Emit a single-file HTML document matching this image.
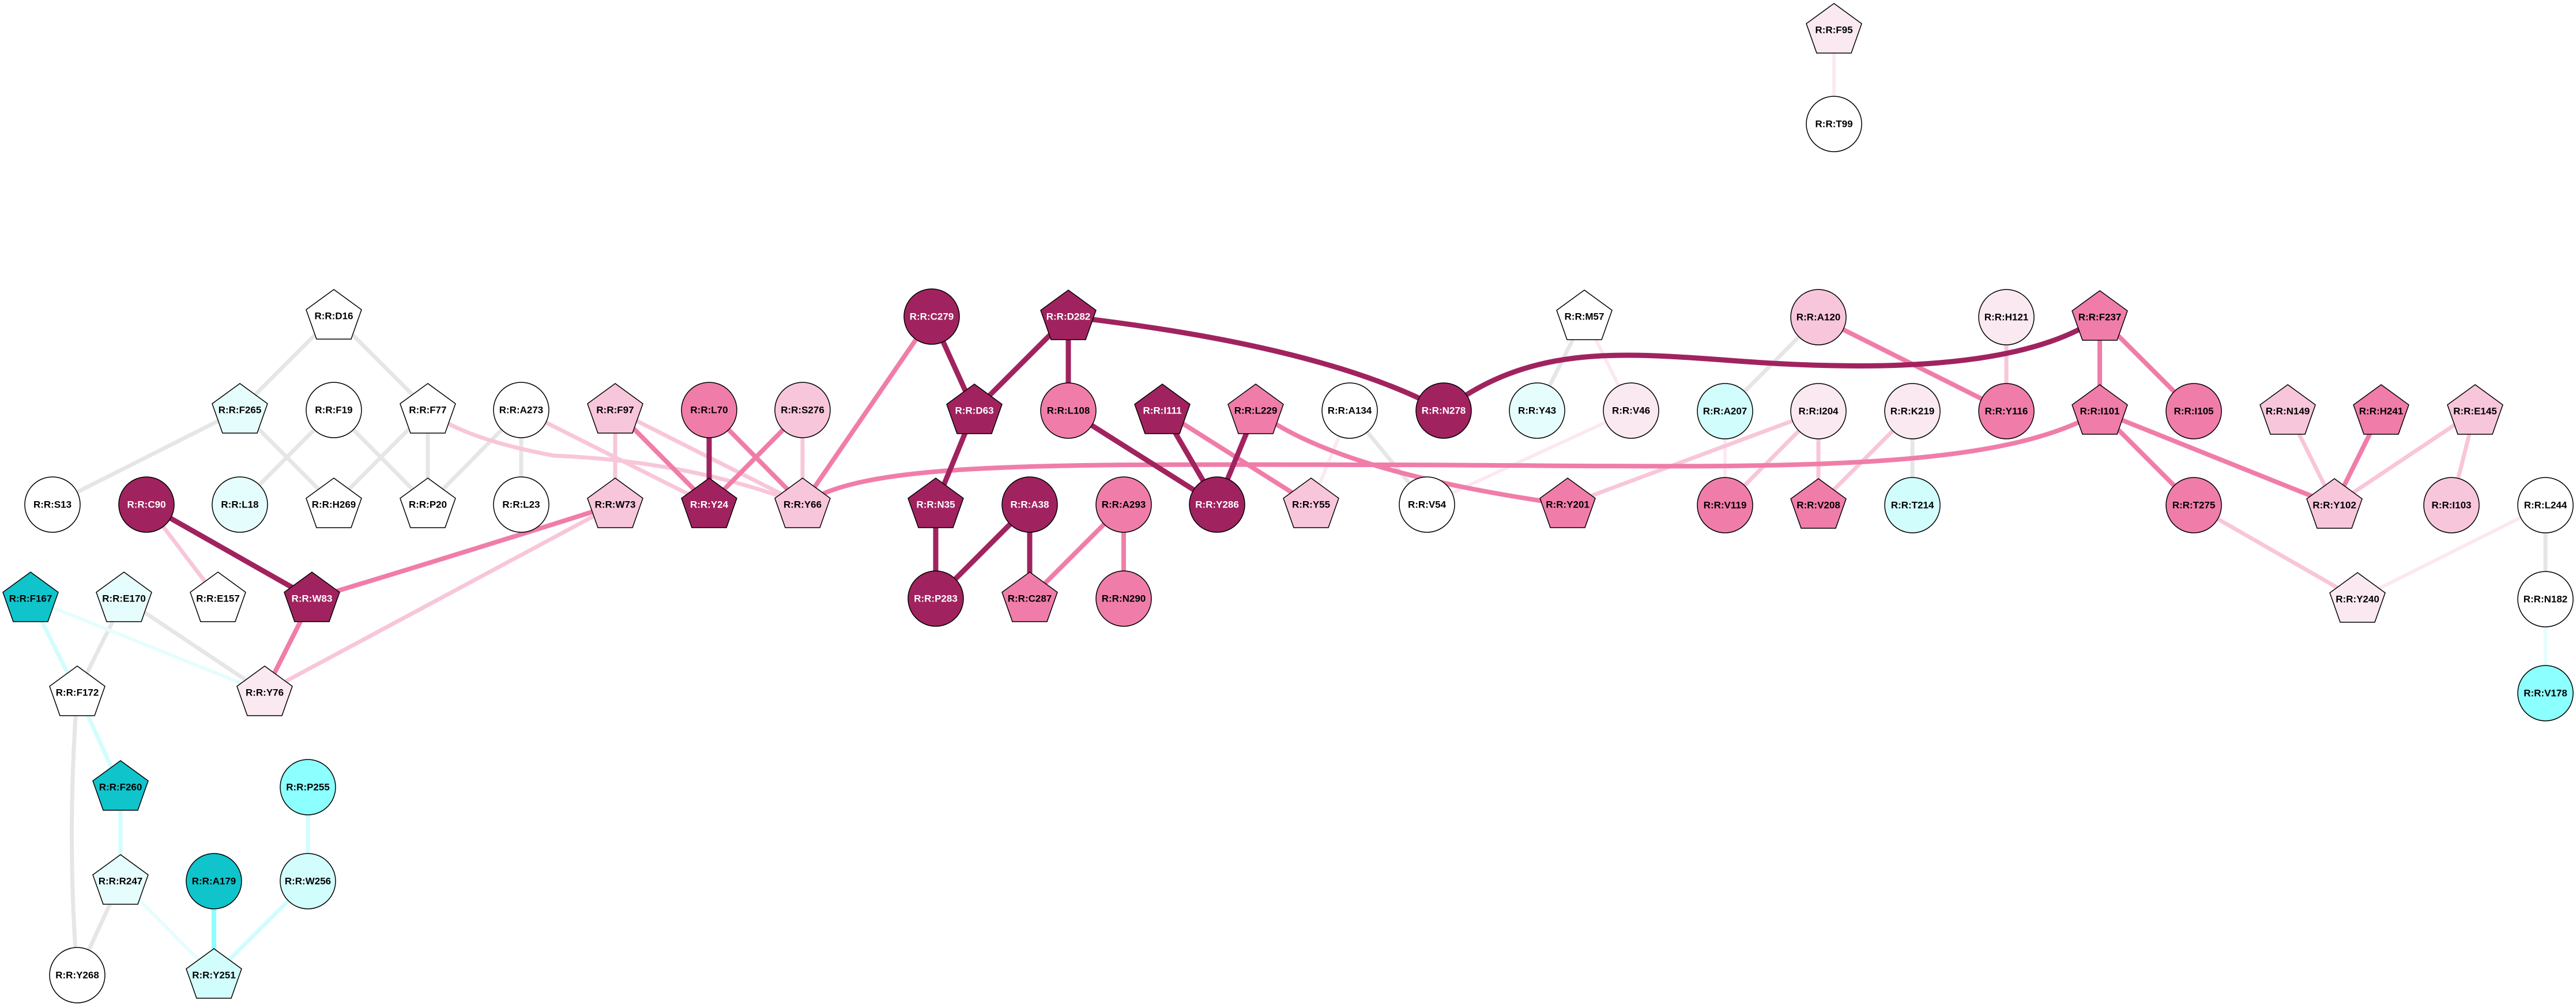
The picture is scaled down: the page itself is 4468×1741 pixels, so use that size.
<!DOCTYPE html>
<html><head><meta charset="utf-8"><style>
html,body{margin:0;padding:0;background:#fff;width:4468px;height:1741px;overflow:hidden}
svg{display:block}
text{font-family:"Liberation Sans",Arial,sans-serif;font-weight:bold;font-size:17px;text-anchor:middle;dominant-baseline:central;fill:#000}
text.w{fill:#fff}
</style></head><body>
<svg width="4468" height="1741" viewBox="0 0 4468 1741" xmlns="http://www.w3.org/2000/svg">
<defs>
<polygon id="p" points="0,-46 48,-11 30,40 -30,40 -48,-11" stroke="#000" stroke-width="1.5"/>
<ellipse id="c" cx="0" cy="0" rx="48" ry="48" stroke="#000" stroke-width="1.5"/>
</defs>
<g fill="none" stroke-linecap="round">
<!-- gray -->
<g stroke="#e6e6e6" stroke-width="7">
<line x1="579" y1="548" x2="416" y2="711"/><line x1="579" y1="548" x2="742" y2="711"/>
<line x1="416" y1="711" x2="91" y2="875"/><line x1="416" y1="711" x2="579" y2="875"/>
<line x1="579" y1="711" x2="416" y2="875"/><line x1="579" y1="711" x2="742" y2="875"/>
<line x1="742" y1="711" x2="579" y2="875"/><line x1="742" y1="711" x2="742" y2="875"/>
<line x1="904" y1="711" x2="742" y2="875"/><line x1="904" y1="711" x2="904" y2="875"/>
<line x1="215" y1="1038" x2="134" y2="1201"/><line x1="215" y1="1038" x2="459" y2="1201"/>
<path d="M134,1201 Q115,1450 134,1691"/>
<line x1="209" y1="1528" x2="134" y2="1691"/>
<line x1="2341" y1="712" x2="2475" y2="875"/>
<line x1="2748" y1="549" x2="2666" y2="712"/>
<line x1="3154" y1="550" x2="2992" y2="713"/>
<line x1="3317" y1="713" x2="3317" y2="876"/>
<line x1="4415" y1="876" x2="4415" y2="1039"/>
</g>
<!-- very light cyan -->
<g stroke="#e6fdfd" stroke-width="6">
<line x1="53" y1="1038" x2="459" y2="1201"/>
<line x1="209" y1="1528" x2="371" y2="1691"/>
<line x1="4415" y1="1039" x2="4415" y2="1202"/>
</g>
<g stroke="#d2fdfd" stroke-width="7">
<line x1="53" y1="1038" x2="134" y2="1201"/>
<line x1="134" y1="1201" x2="209" y2="1365"/>
<line x1="209" y1="1365" x2="209" y2="1528"/>
<line x1="534" y1="1365" x2="534" y2="1528"/>
<line x1="534" y1="1528" x2="371" y2="1691"/>
</g>
<line x1="371" y1="1528" x2="371" y2="1691" stroke="#8cffff" stroke-width="8"/>
<!-- very light pink -->
<g stroke="#fbe9f1" stroke-width="6">
<line x1="2341" y1="712" x2="2274" y2="875"/>
<line x1="2748" y1="549" x2="2829" y2="712"/>
<line x1="2829" y1="712" x2="2475" y2="875"/>
<line x1="2992" y1="713" x2="2992" y2="876"/>
<line x1="4415" y1="876" x2="4089" y2="1039"/>
<line x1="3181" y1="52" x2="3181" y2="215"/>
</g>
<!-- light pink -->
<g stroke="#f8c6da" stroke-width="7">
<path d="M742,711 Q800,760 960,790 Q1200,800 1392,875"/>
<line x1="904" y1="711" x2="1230" y2="875"/>
<line x1="1067" y1="711" x2="1067" y2="875"/>
<line x1="1067" y1="711" x2="1392" y2="875"/>
<line x1="1392" y1="711" x2="1392" y2="875"/>
<line x1="254" y1="875" x2="378" y2="1038"/>
<line x1="1067" y1="875" x2="459" y2="1201"/>
<line x1="2719" y1="875" x2="3154" y2="713"/>
<line x1="3154" y1="713" x2="2992" y2="876"/>
<line x1="3154" y1="713" x2="3154" y2="876"/>
<line x1="3317" y1="713" x2="3154" y2="876"/>
<line x1="3480" y1="550" x2="3480" y2="713"/>
<line x1="3968" y1="713" x2="4049" y2="876"/>
<line x1="4293" y1="713" x2="4049" y2="876"/>
<line x1="4293" y1="713" x2="4252" y2="876"/>
<line x1="3805" y1="876" x2="4089" y2="1039"/>
</g>
<!-- mid pink -->
<g stroke="#f07da9" stroke-width="8">
<line x1="1067" y1="711" x2="1230" y2="875"/>
<line x1="1230" y1="711" x2="1392" y2="875"/>
<line x1="1392" y1="711" x2="1230" y2="875"/>
<line x1="1616" y1="549" x2="1392" y2="875"/>
<path d="M1392,875 C1500,800 1800,805 2400,806 S3450,830 3642,713"/>
<path d="M1067,875 Q800,960 541,1038"/>
<line x1="541" y1="1038" x2="459" y2="1201"/>
<line x1="1949" y1="875" x2="1786" y2="1038"/>
<line x1="1949" y1="875" x2="1949" y2="1038"/>
<line x1="2016" y1="712" x2="2274" y2="875"/>
<path d="M2178,712 Q2320,820 2719,875"/>
<line x1="3154" y1="550" x2="3480" y2="713"/>
<line x1="3642" y1="550" x2="3642" y2="713"/>
<line x1="3642" y1="550" x2="3805" y2="713"/>
<line x1="3642" y1="713" x2="3805" y2="876"/>
<line x1="3642" y1="713" x2="4049" y2="876"/>
<line x1="4130" y1="713" x2="4049" y2="876"/>
</g>
<!-- dark -->
<g stroke="#a0235f" stroke-width="9">
<line x1="1230" y1="711" x2="1230" y2="875"/>
<line x1="254" y1="875" x2="541" y2="1038"/>
<line x1="1616" y1="549" x2="1690" y2="712"/>
<line x1="1853" y1="549" x2="1690" y2="712"/>
<line x1="1853" y1="549" x2="1853" y2="712"/>
<path d="M1853,549 Q2300,600 2504,712"/>
<path d="M2504,712 C2650,600 2800,610 3000,625 S3500,650 3642,550"/>
<line x1="1690" y1="712" x2="1623" y2="875"/>
<line x1="1623" y1="875" x2="1623" y2="1038"/>
<line x1="1786" y1="875" x2="1623" y2="1038"/>
<line x1="1786" y1="875" x2="1786" y2="1038"/>
<line x1="1853" y1="712" x2="2111" y2="875"/>
<line x1="2016" y1="712" x2="2111" y2="875"/>
<line x1="2178" y1="712" x2="2111" y2="875"/>
</g>
</g>
<!-- nodes -->
<g>
<use href="#p" x="579" y="548" fill="#fff"/><text x="579" y="548">R:R:D16</text>
<use href="#p" x="416" y="711" fill="#e6fdfd"/><text x="416" y="711">R:R:F265</text>
<use href="#c" x="579" y="711" fill="#fff"/><text x="579" y="711">R:R:F19</text>
<use href="#p" x="742" y="711" fill="#fff"/><text x="742" y="711">R:R:F77</text>
<use href="#c" x="904" y="711" fill="#fff"/><text x="904" y="711">R:R:A273</text>
<use href="#p" x="1067" y="711" fill="#f8c6da"/><text x="1067" y="711">R:R:F97</text>
<use href="#c" x="1230" y="711" fill="#f07da9"/><text x="1230" y="711">R:R:L70</text>
<use href="#c" x="1392" y="711" fill="#f8c6da"/><text x="1392" y="711">R:R:S276</text>
<use href="#c" x="91" y="875" fill="#fff"/><text x="91" y="875">R:R:S13</text>
<use href="#c" x="254" y="875" fill="#a0235f"/><text class="w" x="254" y="875">R:R:C90</text>
<use href="#c" x="416" y="875" fill="#e6fdfd"/><text x="416" y="875">R:R:L18</text>
<use href="#p" x="579" y="875" fill="#fff"/><text x="579" y="875">R:R:H269</text>
<use href="#p" x="742" y="875" fill="#fff"/><text x="742" y="875">R:R:P20</text>
<use href="#c" x="904" y="875" fill="#fff"/><text x="904" y="875">R:R:L23</text>
<use href="#p" x="1067" y="875" fill="#f8c6da"/><text x="1067" y="875">R:R:W73</text>
<use href="#p" x="1230" y="875" fill="#a0235f"/><text class="w" x="1230" y="875">R:R:Y24</text>
<use href="#p" x="1392" y="875" fill="#f8c6da"/><text x="1392" y="875">R:R:Y66</text>
<use href="#p" x="53" y="1038" fill="#10c4cc"/><text x="53" y="1038">R:R:F167</text>
<use href="#p" x="215" y="1038" fill="#e6fdfd"/><text x="215" y="1038">R:R:E170</text>
<use href="#p" x="378" y="1038" fill="#fff"/><text x="378" y="1038">R:R:E157</text>
<use href="#p" x="541" y="1038" fill="#a0235f"/><text class="w" x="541" y="1038">R:R:W83</text>
<use href="#p" x="134" y="1201" fill="#fff"/><text x="134" y="1201">R:R:F172</text>
<use href="#p" x="459" y="1201" fill="#fbe9f1"/><text x="459" y="1201">R:R:Y76</text>
<use href="#p" x="209" y="1365" fill="#10c4cc"/><text x="209" y="1365">R:R:F260</text>
<use href="#c" x="534" y="1365" fill="#8cffff"/><text x="534" y="1365">R:R:P255</text>
<use href="#p" x="209" y="1528" fill="#e6fdfd"/><text x="209" y="1528">R:R:R247</text>
<use href="#c" x="371" y="1528" fill="#10c4cc"/><text x="371" y="1528">R:R:A179</text>
<use href="#c" x="534" y="1528" fill="#d2fdfd"/><text x="534" y="1528">R:R:W256</text>
<use href="#c" x="134" y="1691" fill="#fff"/><text x="134" y="1691">R:R:Y268</text>
<use href="#p" x="371" y="1691" fill="#d2fdfd"/><text x="371" y="1691">R:R:Y251</text>

<use href="#c" x="1616" y="549" fill="#a0235f"/><text class="w" x="1616" y="549">R:R:C279</text>
<use href="#p" x="1853" y="549" fill="#a0235f"/><text class="w" x="1853" y="549">R:R:D282</text>
<use href="#p" x="2748" y="549" fill="#fff"/><text x="2748" y="549">R:R:M57</text>
<use href="#p" x="1690" y="712" fill="#a0235f"/><text class="w" x="1690" y="712">R:R:D63</text>
<use href="#c" x="1853" y="712" fill="#f07da9"/><text x="1853" y="712">R:R:L108</text>
<use href="#p" x="2016" y="712" fill="#a0235f"/><text class="w" x="2016" y="712">R:R:I111</text>
<use href="#p" x="2178" y="712" fill="#f07da9"/><text x="2178" y="712">R:R:L229</text>
<use href="#c" x="2341" y="712" fill="#fff"/><text x="2341" y="712">R:R:A134</text>
<use href="#c" x="2504" y="712" fill="#a0235f"/><text class="w" x="2504" y="712">R:R:N278</text>
<use href="#c" x="2666" y="712" fill="#e6fdfd"/><text x="2666" y="712">R:R:Y43</text>
<use href="#c" x="2829" y="712" fill="#fbe9f1"/><text x="2829" y="712">R:R:V46</text>
<use href="#p" x="1623" y="875" fill="#a0235f"/><text class="w" x="1623" y="875">R:R:N35</text>
<use href="#c" x="1786" y="875" fill="#a0235f"/><text class="w" x="1786" y="875">R:R:A38</text>
<use href="#c" x="1949" y="875" fill="#f07da9"/><text x="1949" y="875">R:R:A293</text>
<use href="#c" x="2111" y="875" fill="#a0235f"/><text class="w" x="2111" y="875">R:R:Y286</text>
<use href="#p" x="2274" y="875" fill="#f8c6da"/><text x="2274" y="875">R:R:Y55</text>
<use href="#c" x="2475" y="875" fill="#fff"/><text x="2475" y="875">R:R:V54</text>
<use href="#p" x="2719" y="875" fill="#f07da9"/><text x="2719" y="875">R:R:Y201</text>
<use href="#c" x="1623" y="1038" fill="#a0235f"/><text class="w" x="1623" y="1038">R:R:P283</text>
<use href="#p" x="1786" y="1038" fill="#f07da9"/><text x="1786" y="1038">R:R:C287</text>
<use href="#c" x="1949" y="1038" fill="#f07da9"/><text x="1949" y="1038">R:R:N290</text>

<use href="#p" x="3181" y="52" fill="#fbe9f1"/><text x="3181" y="52">R:R:F95</text>
<use href="#c" x="3181" y="215" fill="#fff"/><text x="3181" y="215">R:R:T99</text>
<use href="#c" x="3154" y="550" fill="#f8c6da"/><text x="3154" y="550">R:R:A120</text>
<use href="#c" x="3480" y="550" fill="#fbe9f1"/><text x="3480" y="550">R:R:H121</text>
<use href="#p" x="3642" y="550" fill="#f07da9"/><text x="3642" y="550">R:R:F237</text>
<use href="#c" x="2992" y="713" fill="#d2fdfd"/><text x="2992" y="713">R:R:A207</text>
<use href="#c" x="3154" y="713" fill="#fbe9f1"/><text x="3154" y="713">R:R:I204</text>
<use href="#c" x="3317" y="713" fill="#fbe9f1"/><text x="3317" y="713">R:R:K219</text>
<use href="#c" x="3480" y="713" fill="#f07da9"/><text x="3480" y="713">R:R:Y116</text>
<use href="#p" x="3642" y="713" fill="#f07da9"/><text x="3642" y="713">R:R:I101</text>
<use href="#c" x="3805" y="713" fill="#f07da9"/><text x="3805" y="713">R:R:I105</text>
<use href="#p" x="3968" y="713" fill="#f8c6da"/><text x="3968" y="713">R:R:N149</text>
<use href="#p" x="4130" y="713" fill="#f07da9"/><text x="4130" y="713">R:R:H241</text>
<use href="#p" x="4293" y="713" fill="#f8c6da"/><text x="4293" y="713">R:R:E145</text>
<use href="#c" x="2992" y="876" fill="#f07da9"/><text x="2992" y="876">R:R:V119</text>
<use href="#p" x="3154" y="876" fill="#f07da9"/><text x="3154" y="876">R:R:V208</text>
<use href="#c" x="3317" y="876" fill="#d2fdfd"/><text x="3317" y="876">R:R:T214</text>
<use href="#c" x="3805" y="876" fill="#f07da9"/><text x="3805" y="876">R:R:T275</text>
<use href="#p" x="4049" y="876" fill="#f8c6da"/><text x="4049" y="876">R:R:Y102</text>
<use href="#c" x="4252" y="876" fill="#f8c6da"/><text x="4252" y="876">R:R:I103</text>
<use href="#c" x="4415" y="876" fill="#fff"/><text x="4415" y="876">R:R:L244</text>
<use href="#p" x="4089" y="1039" fill="#fbe9f1"/><text x="4089" y="1039">R:R:Y240</text>
<use href="#c" x="4415" y="1039" fill="#fff"/><text x="4415" y="1039">R:R:N182</text>
<use href="#c" x="4415" y="1202" fill="#8cffff"/><text x="4415" y="1202">R:R:V178</text>
</g>
</svg>
</body></html>
